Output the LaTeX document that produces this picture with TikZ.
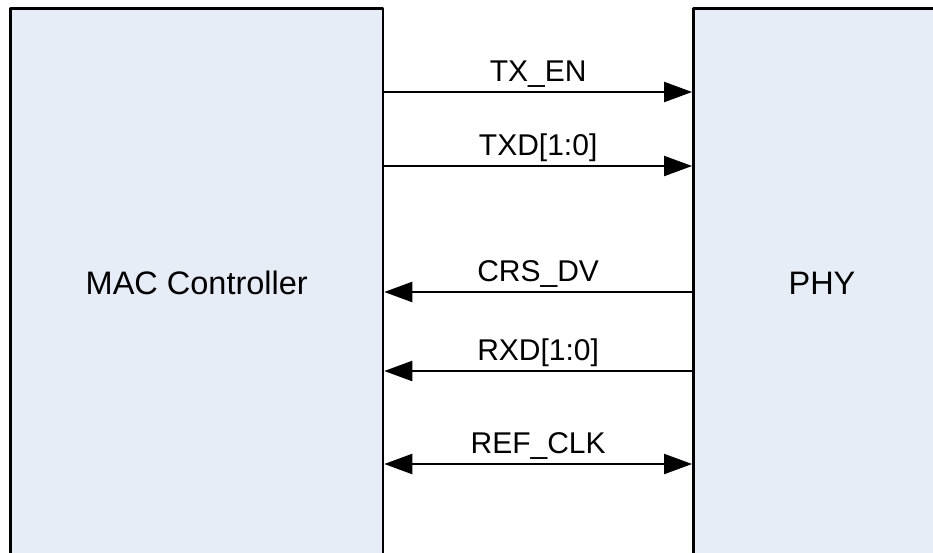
\documentclass[tikz,border=0pt]{standalone}
\usepackage{fontspec}
\setmainfont{Liberation Sans}
\usetikzlibrary{arrows.meta}
\definecolor{boxfill}{HTML}{E7EDF7}

\begin{document}
\begin{tikzpicture}[x=1pt,y=-1pt,>={Triangle[length=28pt,width=20pt]}, font=\fontsize{30}{36}\selectfont, line join=round]
	\tikzset{blk/.style={draw, line width=2.5pt, fill=boxfill, inner sep=0pt, font=\fontsize{32.5}{38}\selectfont},
		sig/.style={line width=2.2pt},
		siglab/.style={anchor=base, inner sep=0pt, yshift=11pt}}
	\def\boxh{549} \def\boxy{283} % chiều cao, tâm
	\useasboundingbox (0,0) rectangle (933,552);
	\node[blk, minimum width=372.5pt, minimum height=\boxh pt] (mac) at (196.75,\boxy) {MAC Controller};
	\node[blk, minimum width=257.4pt, minimum height=\boxh pt] (phy) at (822,\boxy) {PHY};
	% các tín hiệu
	\coordinate (ytxen) at (0,92);
	\coordinate (ytxd) at (0,166);
	\coordinate (ycrs) at (0,292);
	\coordinate (yrxd) at (0,371);
	\coordinate (yclk) at (0,464);
	\draw[sig,->] (mac.east |- ytxen) -- (phy.west |- ytxen) node[siglab, midway] (txen) {TX\_EN};
	\draw[sig,->] (mac.east |- ytxd) -- (phy.west |- ytxd) node[siglab, midway] (txd) {TXD[1:0]};
	\draw[sig,<-] (mac.east |- ycrs) -- (phy.west |- ycrs) node[siglab, midway] (crsdv) {CRS\_DV};
	\draw[sig,<-] (mac.east |- yrxd) -- (phy.west |- yrxd) node[siglab, midway] (rxd) {RXD[1:0]};
	\draw[sig,<->] (mac.east |- yclk) -- (phy.west |- yclk) node[siglab, midway] (refclk) {REF\_CLK};
\end{tikzpicture}
\end{document}
